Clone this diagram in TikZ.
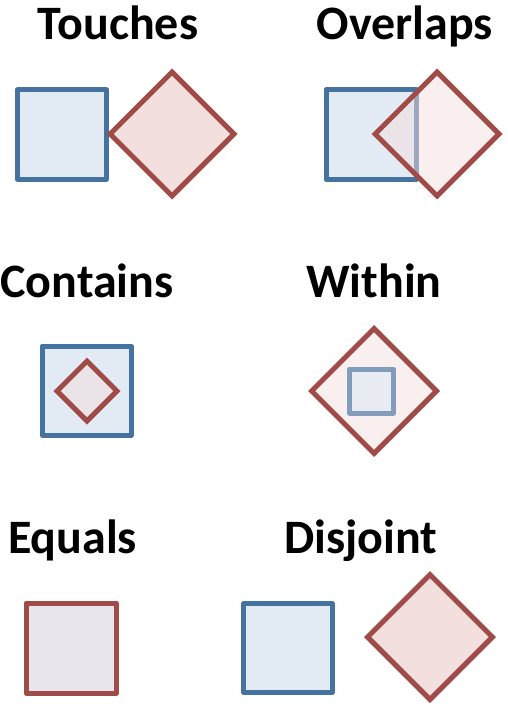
\documentclass[tikz,border=0pt]{standalone}
\usepackage{fontspec}
\setmainfont{Carlito}
\usetikzlibrary{shapes.geometric}
\definecolor{bstroke}{HTML}{4672A0}
\definecolor{bfill}{HTML}{E2EAF4}
\definecolor{rstroke}{HTML}{A04B47}
\definecolor{rfill}{HTML}{F2DFDE}
\definecolor{efill}{HTML}{E8E6EC}
\tikzset{
  title/.style={anchor=base, inner sep=0pt, font=\fontsize{48}{48}\selectfont\bfseries},
  bsq/.style={rectangle, draw=bstroke, fill=bfill, line width=5pt, line join=round, inner sep=0pt, minimum size=#1},
  rdia/.style={diamond, draw=rstroke, fill=rfill, line width=5pt, inner sep=0pt, minimum size=#1},
  half/.style={fill opacity=0.5},
}
\begin{document}
\begin{tikzpicture}[x=1pt,y=-1pt]
\useasboundingbox (0,0) rectangle (507,706);
% Touches
\node[title] (t1) at (118,40) {Touches};
\node[bsq=89pt] (s1) at (62,134.5) {};
\node[rdia=126pt] (d1) at (172,134) {};
% Overlaps
\node[title] (t2) at (405,40) {Overlaps};
\node[bsq=90pt] (s2) at (371,134.5) {};
\node[rdia=126pt, half] (d2) at (437,134) {};
% Contains
\node[title] (t3) at (87,297) {Contains};
\node[bsq=89pt] (s3) at (86.5,390.5) {};
\node[rdia=62pt, half] (d3) at (87,391) {};
% Within
\node[title] (t4) at (374,297) {Within};
\node[rdia=127pt, half] (d4) at (374,391) {};
\node[bsq=44pt, opacity=0.65] (s4) at (371.5,391) {};
% Equals
\node[title] (t5) at (72.5,553) {Equals};
\node[rectangle, draw=rstroke, fill=efill, line width=5pt, line join=round, inner sep=0pt, minimum size=90pt] (s5) at (71,648) {};
% Disjoint
\node[title] (t6) at (361,553) {Disjoint};
\node[bsq=89pt] (s6) at (288,648) {};
\node[rdia=127pt] (d6) at (430,637) {};
\end{tikzpicture}
\end{document}
